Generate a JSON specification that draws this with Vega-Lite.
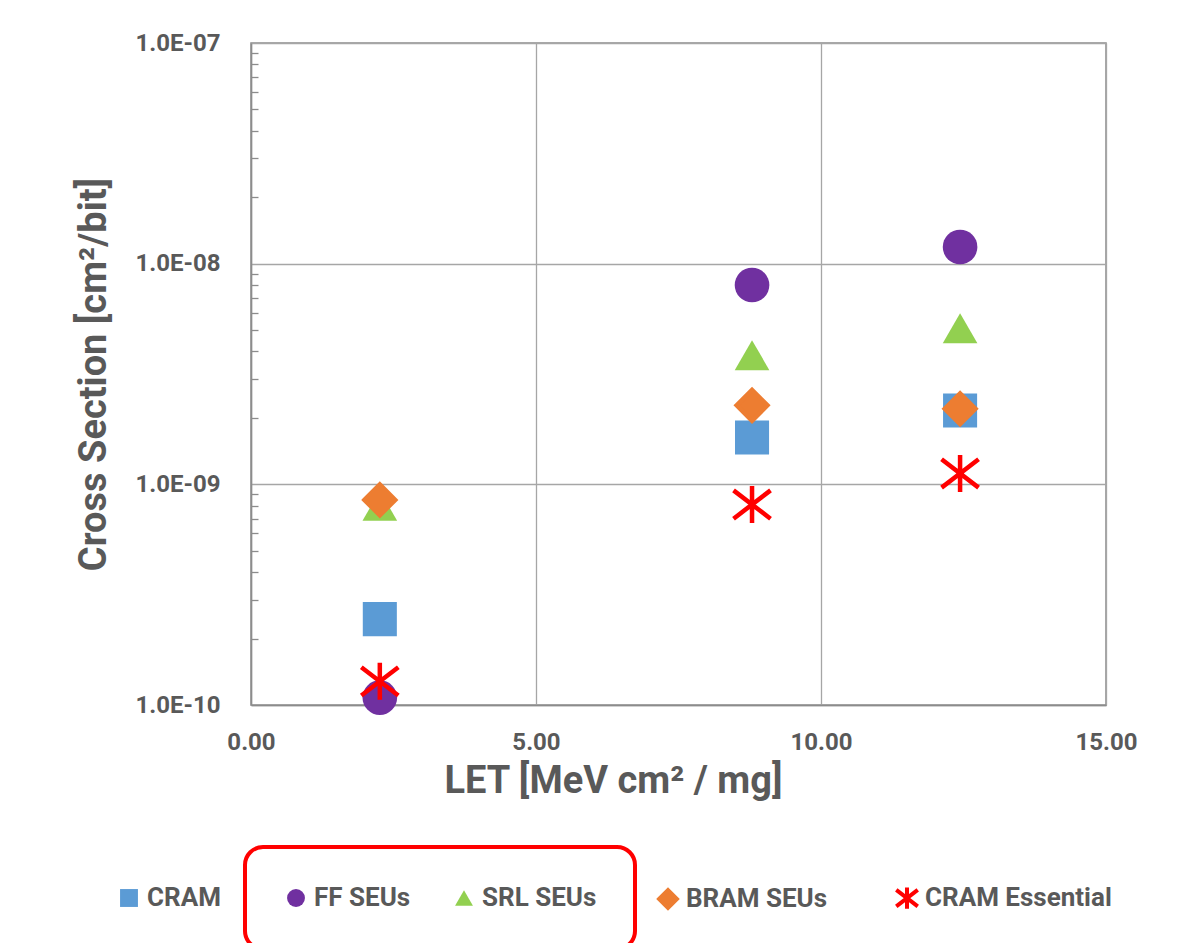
{
  "$schema": "https://vega.github.io/schema/vega-lite/v6.json",
  "autosize": {"type": "none"},
  "width": 855,
  "height": 662,
  "padding": {"left": 251, "top": 43, "right": 74, "bottom": 238},
  "background": "#ffffff",
  "config": {
    "font": "Roboto",
    "view": {"stroke": "#8c8c8c", "strokeWidth": 1.5},
    "axis": {
      "domainColor": "#8c8c8c",
      "domainWidth": 1.5,
      "gridColor": "#a6a6a6",
      "gridWidth": 1.3,
      "labelFont": "Roboto",
      "labelFontWeight": "bold",
      "labelFontSize": 24,
      "labelColor": "#595959",
      "labelFlush": false,
      "titleFont": "Roboto",
      "titleFontWeight": "bold",
      "titleFontSize": 38,
      "titleColor": "#595959"
    },
    "legend": {
      "labelFont": "Roboto",
      "labelFontWeight": "bold",
      "labelFontSize": 26,
      "labelColor": "#595959",
      "labelLimit": 0,
      "direction": "horizontal",
      "orient": "none",
      "symbolSize": 320,
      "columnPadding": 56,
      "labelOffset": 5,
      "strokeWidth": 4,
      "title": null
    }
  },
  "data": {
    "values": [
      {"series": "CRAM", "let": 2.26, "xs": 2.45e-10},
      {"series": "CRAM", "let": 8.79, "xs": 1.63e-9},
      {"series": "CRAM", "let": 12.44, "xs": 2.16e-9},
      {"series": "FF SEUs", "let": 2.26, "xs": 1.08e-10},
      {"series": "FF SEUs", "let": 8.79, "xs": 8.0e-9},
      {"series": "FF SEUs", "let": 12.44, "xs": 1.19e-8},
      {"series": "SRL SEUs", "let": 2.26, "xs": 8.0e-10},
      {"series": "SRL SEUs", "let": 8.79, "xs": 3.85e-9},
      {"series": "SRL SEUs", "let": 12.44, "xs": 5.1e-9},
      {"series": "BRAM SEUs", "let": 2.26, "xs": 8.5e-10},
      {"series": "BRAM SEUs", "let": 8.79, "xs": 2.28e-9},
      {"series": "BRAM SEUs", "let": 12.44, "xs": 2.2e-9},
      {"series": "CRAM Essential", "let": 2.26, "xs": 1.28e-10},
      {"series": "CRAM Essential", "let": 8.79, "xs": 8.1e-10},
      {"series": "CRAM Essential", "let": 12.44, "xs": 1.12e-9}
    ]
  },
  "encoding": {
    "x": {
      "field": "let",
      "type": "quantitative",
      "scale": {"domain": [0, 15], "nice": false, "zero": false},
      "axis": {
        "values": [0, 5, 10, 15],
        "format": ".2f",
        "grid": true,
        "ticks": false,
        "labelPadding": 25,
        "title": "LET [MeV cm² / mg]",
        "titleX": 362,
        "titleY": 87,
        "titleBaseline": "alphabetic",
        "titleAlign": "center"
      }
    }
  },
  "layer": [
    {
      "transform": [{"filter": "datum.series === 'CRAM'"}],
      "mark": {"type": "point", "filled": true, "opacity": 1, "size": 1160},
      "encoding": {
        "y": {
          "field": "xs",
          "type": "quantitative",
          "scale": {"type": "log", "domain": [1e-10, 1e-7], "nice": false},
          "axis": {
            "orient": "left",
            "values": [1e-10, 1e-9, 1e-8, 1e-7],
            "grid": true,
            "ticks": false,
            "labelPadding": 31,
            "labelExpr": "'1.0E-' + format(-round(log(datum.value)/LN10), '02d')",
            "title": "Cross Section [cm²/bit]",
            "titleX": -146,
            "titleBaseline": "alphabetic"
          }
        },
        "color": {
          "field": "series",
          "type": "nominal",
          "scale": {"domain": ["CRAM"], "range": ["#5b9bd5"]},
          "legend": {"legendX": -135, "legendY": 842, "padding": 0}
        },
        "shape": {
          "field": "series",
          "type": "nominal",
          "scale": {"domain": ["CRAM"], "range": ["square"]},
          "legend": {"legendX": -135, "legendY": 842, "padding": 0}
        }
      }
    },
    {
      "transform": [{"filter": "datum.series === 'FF SEUs' || datum.series === 'SRL SEUs'"}],
      "mark": {"type": "point", "filled": true, "opacity": 1, "size": 1200},
      "encoding": {
        "y": {
          "field": "xs",
          "type": "quantitative",
          "scale": {"type": "log", "domain": [1e-10, 1e-7], "nice": false},
          "axis": {
            "orient": "left",
            "values": [2e-10, 3e-10, 4e-10, 5e-10, 6e-10, 7e-10, 8e-10, 9e-10, 2e-9, 3e-9, 4e-9, 5e-9, 6e-9, 7e-9, 8e-9, 9e-9, 2e-8, 3e-8, 4e-8, 5e-8, 6e-8, 7e-8, 8e-8, 9e-8],
            "grid": false,
            "labels": false,
            "domain": false,
            "ticks": true,
            "tickSize": -7,
            "tickColor": "#8c8c8c",
            "tickWidth": 1.3,
            "title": null
          }
        },
        "color": {
          "field": "series",
          "type": "nominal",
          "scale": {"domain": ["FF SEUs", "SRL SEUs"], "range": ["#7030a0", "#92d050"]},
          "legend": {"legendX": -6, "legendY": 804, "padding": 38, "columnPadding": 40, "strokeColor": "#ff0000", "cornerRadius": 18}
        },
        "shape": {
          "field": "series",
          "type": "nominal",
          "scale": {"domain": ["FF SEUs", "SRL SEUs"], "range": ["circle", "triangle-up"]},
          "legend": {"legendX": -6, "legendY": 804, "padding": 38, "columnPadding": 40, "strokeColor": "#ff0000", "cornerRadius": 18}
        }
      }
    },
    {
      "transform": [{"filter": "datum.series === 'BRAM SEUs' || datum.series === 'CRAM Essential'"}],
      "mark": {"type": "point", "filled": true, "opacity": 1, "size": 950, "strokeWidth": 4.5},
      "encoding": {
        "y": {
          "field": "xs",
          "type": "quantitative",
          "scale": {"type": "log", "domain": [1e-10, 1e-7], "nice": false},
          "axis": null
        },
        "fill": {
          "field": "series",
          "type": "nominal",
          "scale": {"domain": ["BRAM SEUs", "CRAM Essential"], "range": ["#ed7d31", "#ff0000"]},
          "legend": {"legendX": 404, "legendY": 842, "padding": 0, "symbolStrokeWidth": 4, "columnPadding": 60}
        },
        "stroke": {
          "field": "series",
          "type": "nominal",
          "scale": {"domain": ["BRAM SEUs", "CRAM Essential"], "range": ["#ed7d31", "#ff0000"]},
          "legend": {"legendX": 404, "legendY": 842, "padding": 0, "symbolStrokeWidth": 4, "columnPadding": 60}
        },
        "shape": {
          "field": "series",
          "type": "nominal",
          "scale": {"domain": ["BRAM SEUs", "CRAM Essential"], "range": ["diamond", "M0,-1.2L0,1.2M-1.2,-0.92L1.2,0.92M-1.2,0.92L1.2,-0.92"]},
          "legend": {"legendX": 404, "legendY": 842, "padding": 0, "symbolStrokeWidth": 4, "columnPadding": 60}
        }
      }
    }
  ],
  "resolve": {
    "scale": {"color": "independent", "shape": "independent", "fill": "independent", "stroke": "independent"},
    "axis": {"y": "independent"}
  }
}
